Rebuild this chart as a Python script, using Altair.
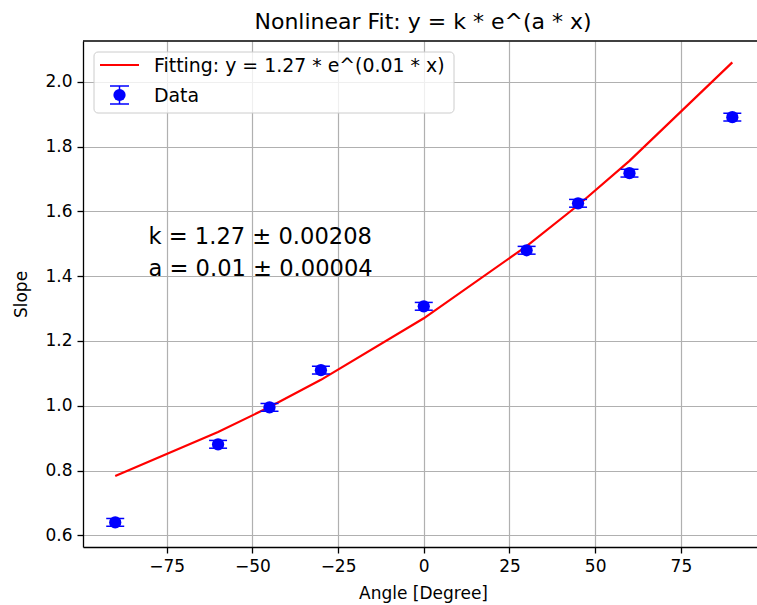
import altair as alt
import pandas as pd

# Measured slopes at each angle, with their uncertainty
angles = [-90, -60, -45, -30, 0, 30, 45, 60, 90]
slopes = [0.640, 0.881, 0.995, 1.110, 1.307, 1.480, 1.625, 1.718, 1.891]
slope_err = [0.012, 0.012, 0.012, 0.012, 0.012, 0.012, 0.012, 0.012, 0.012]

# Fitted curve evaluated at the measured angles
fit_values = [0.783, 0.919, 0.996, 1.080, 1.270, 1.493, 1.619, 1.756, 2.060]

x_ticks = [-75, -50, -25, 0, 25, 50, 75]
y_ticks = [0.6, 0.8, 1.0, 1.2, 1.4, 1.6, 1.8, 2.0]

title_text = "Nonlinear Fit: y = k * e^(a * x)"
fit_label = "Fitting: y = 1.27 * e^(0.01 * x)"
data_label = "Data"
param_text = ["k = 1.27 \u00b1 0.00208", "a = 0.01 \u00b1 0.00004"]

FONT = "DejaVu Sans"
W, H = 674, 506

pts = pd.DataFrame({"angle": angles, "slope": slopes, "err": slope_err})
pts["lo"] = pts["slope"] - pts["err"]
pts["hi"] = pts["slope"] + pts["err"]
fit = pd.DataFrame({"angle": angles, "fit": fit_values})

xscale = alt.Scale(domain=[-99.4, 97.2], nice=False, zero=False)
yscale = alt.Scale(domain=[0.564, 2.126], nice=False, zero=False)

xaxis = alt.Axis(
    values=x_ticks, title="Angle [Degree]", grid=True,
    labelExpr="replace(datum.label, '-', '\u2212')",
    titleX=340, titleY=51, titleBaseline="alphabetic", titleAlign="center",
)
yaxis = alt.Axis(
    values=y_ticks, format=".1f", title="Slope", grid=True,
    titleX=-62, titleY=H / 2, titleAngle=-90, titleAlign="center",
    titleBaseline="middle",
)

base = alt.Chart(pts)

line = alt.Chart(fit).mark_line(color="red", strokeWidth=2.2).encode(
    x=alt.X("angle:Q", scale=xscale, axis=xaxis),
    y=alt.Y("fit:Q", scale=yscale, axis=yaxis),
)

bars = base.mark_rule(color="blue", strokeWidth=1.5).encode(
    x="angle:Q", y="lo:Q", y2="hi:Q"
)
caps_lo = base.mark_rule(color="blue", strokeWidth=1.5, xOffset=-9, x2Offset=9).encode(
    x="angle:Q", x2="angle:Q", y="lo:Q"
)
caps_hi = base.mark_rule(color="blue", strokeWidth=1.5, xOffset=-9, x2Offset=9).encode(
    x="angle:Q", x2="angle:Q", y="hi:Q"
)
dots = base.mark_point(filled=True, color="blue", size=150, opacity=1).encode(
    x="angle:Q", y="slope:Q"
)

params = alt.Chart(pd.DataFrame({"t": [param_text]})).mark_text(
    font=FONT, fontSize=22.6, align="left", baseline="alphabetic",
    lineHeight=32, color="black",
).encode(x=alt.datum(-80.3), y=alt.datum(1.498), text="t")

one = pd.DataFrame({"a": [0]})

# Chart title above the plot frame
title = alt.Chart(one).mark_text(
    font=FONT, fontSize=22, align="center", baseline="alphabetic", color="black"
).encode(x=alt.value(W / 2 + 3), y=alt.value(-12), text=alt.value(title_text))

# Top frame line
top_edge = alt.Chart(one).mark_rule(color="black", strokeWidth=1.3).encode(
    x=alt.value(0), x2=alt.value(W), y=alt.value(0)
)

# Legend box and entries
leg_box = alt.Chart(one).mark_rect(
    fill="white", fillOpacity=0.8, stroke="#cccccc", strokeWidth=1, cornerRadius=4
).encode(x=alt.value(11), x2=alt.value(371), y=alt.value(11), y2=alt.value(72))
leg_line = alt.Chart(one).mark_rule(color="red", strokeWidth=2.2).encode(
    x=alt.value(17), x2=alt.value(56), y=alt.value(24)
)
leg_bar = alt.Chart(one).mark_rule(color="blue", strokeWidth=1.5).encode(
    x=alt.value(36.5), y=alt.value(45), y2=alt.value(63)
)
leg_cap1 = alt.Chart(one).mark_rule(color="blue", strokeWidth=1.5).encode(
    x=alt.value(27), x2=alt.value(46), y=alt.value(45)
)
leg_cap2 = alt.Chart(one).mark_rule(color="blue", strokeWidth=1.5).encode(
    x=alt.value(27), x2=alt.value(46), y=alt.value(63)
)
leg_dot = alt.Chart(one).mark_point(filled=True, color="blue", size=150, opacity=1).encode(
    x=alt.value(36.5), y=alt.value(54)
)
leg_txt1 = alt.Chart(one).mark_text(
    font=FONT, fontSize=18.9, align="left", baseline="alphabetic", color="black"
).encode(x=alt.value(71), y=alt.value(30.5), text=alt.value(fit_label))
leg_txt2 = alt.Chart(one).mark_text(
    font=FONT, fontSize=18.9, align="left", baseline="alphabetic", color="black"
).encode(x=alt.value(71), y=alt.value(60.5), text=alt.value(data_label))

chart = alt.layer(
    line, bars, caps_lo, caps_hi, dots, params, title, top_edge,
    leg_box, leg_line, leg_bar, leg_cap1, leg_cap2, leg_dot, leg_txt1, leg_txt2,
).properties(
    width=W, height=H,
    background="white",
    autosize=alt.AutoSizeParams(type="none"),
    padding={"left": 83, "top": 41, "right": 0, "bottom": 58},
).configure_view(stroke=None).configure_axis(
    labelFont=FONT, labelFontSize=17, labelColor="black",
    titleFont=FONT, titleFontSize=17, titleFontWeight="normal", titleColor="black",
    domainColor="black", domainWidth=1.3, tickColor="black", tickWidth=1.3,
    tickSize=6, labelPadding=5, gridColor="#b0b0b0", gridWidth=1.2,
)

chart.save("out.html", embed_options={"renderer": "svg", "actions": False})
